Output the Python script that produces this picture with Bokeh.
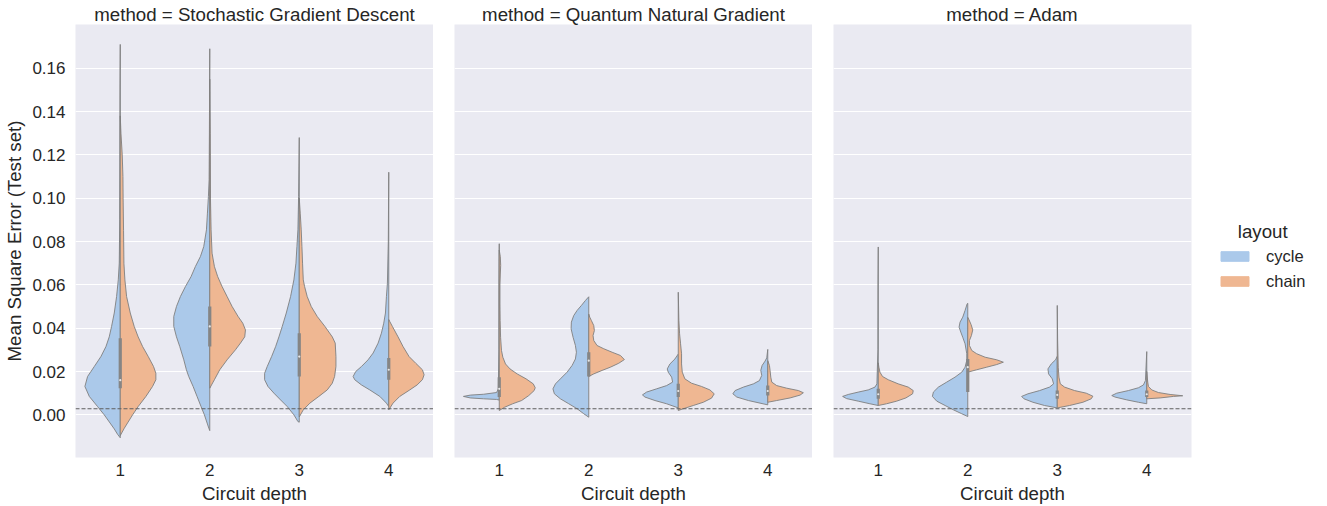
from bokeh.plotting import figure
from bokeh.models import Range1d, FixedTicker, Span, Legend, LegendItem, ColumnDataSource
from bokeh.layouts import row
from bokeh.embed import file_html
from bokeh.resources import INLINE

# ---------------- data ----------------
METHODS = ["Stochastic Gradient Descent", "Quantum Natural Gradient", "Adam"]
DEPTHS = [1, 2, 3, 4]
LAYOUTS = ["cycle", "chain"]
Y_TICKS = [0.0, 0.02, 0.04, 0.06, 0.08, 0.10, 0.12, 0.14, 0.16]
BASELINE = 0.0028

# violin half outlines: (MSE value, half density width in category units)
SGD_D1_CYCLE = [(-0.0106, 0), (-0.009, 0.03), (-0.0065, 0.067), (0.0, 0.179), (0.0038, 0.253), (0.0085, 0.346),
                (0.0131, 0.395), (0.0177, 0.365), (0.0223, 0.29), (0.0269, 0.216), (0.0315, 0.16), (0.036, 0.123),
                (0.0408, 0.097), (0.047, 0.067), (0.0546, 0.041), (0.0623, 0.022), (0.07, 0.011), (0.09, 0.006),
                (0.12, 0.004), (0.15, 0.003), (0.171, 0)]
SGD_D1_CHAIN = [(-0.0096, 0), (-0.0062, 0.045), (0.0, 0.138), (0.0038, 0.2), (0.0085, 0.287), (0.0131, 0.361),
                (0.0162, 0.398), (0.0192, 0.398), (0.0223, 0.372), (0.0269, 0.313), (0.0315, 0.25), (0.036, 0.2),
                (0.0408, 0.156), (0.047, 0.112), (0.0546, 0.071), (0.0623, 0.052), (0.07, 0.041), (0.085, 0.037),
                (0.1, 0.032), (0.11, 0.03), (0.12, 0.022), (0.13, 0.008), (0.138, 0)]
SGD_D2_CYCLE = [(-0.0073, 0), (-0.0062, 0.01), (0.0, 0.06), (0.0038, 0.097), (0.0085, 0.142), (0.0131, 0.186),
                (0.0177, 0.235), (0.0208, 0.261), (0.0254, 0.29), (0.0315, 0.335), (0.036, 0.372), (0.0408, 0.402),
                (0.0454, 0.402), (0.05, 0.372), (0.0546, 0.328), (0.0592, 0.272), (0.0638, 0.209), (0.0685, 0.16),
                (0.0731, 0.104), (0.0777, 0.067), (0.0854, 0.037), (0.0931, 0.026), (0.1008, 0.015), (0.1085, 0.007),
                (0.13, 0.004), (0.169, 0)]
SGD_D2_CHAIN = [(0.0123, 0), (0.0162, 0.052), (0.0208, 0.112), (0.0254, 0.194), (0.03, 0.287), (0.0331, 0.343),
                (0.036, 0.391), (0.0392, 0.399), (0.0423, 0.369), (0.0454, 0.317), (0.05, 0.25), (0.0546, 0.194),
                (0.0592, 0.138), (0.0638, 0.089), (0.0685, 0.052), (0.0746, 0.026), (0.0854, 0.015), (0.1, 0.008),
                (0.13, 0.005), (0.155, 0)]
SGD_D3_CYCLE = [(-0.0034, 0), (-0.0031, 0.015), (0.0, 0.06), (0.0038, 0.134), (0.0069, 0.209), (0.01, 0.283),
                (0.0131, 0.35), (0.0162, 0.387), (0.0192, 0.387), (0.0223, 0.358), (0.0269, 0.309), (0.0315, 0.264),
                (0.036, 0.227), (0.0408, 0.19), (0.047, 0.145), (0.0546, 0.097), (0.0623, 0.06), (0.07, 0.037),
                (0.0777, 0.026), (0.0854, 0.015), (0.1008, 0.007), (0.128, 0)]
SGD_D3_CHAIN = [(-0.001, 0), (0.0023, 0.045), (0.0054, 0.119), (0.0085, 0.219), (0.0115, 0.313), (0.0146, 0.369),
                (0.0177, 0.395), (0.0223, 0.41), (0.0269, 0.41), (0.0331, 0.402), (0.036, 0.369), (0.0408, 0.287),
                (0.0454, 0.201), (0.05, 0.134), (0.0546, 0.089), (0.0592, 0.06), (0.0623, 0.045), (0.07, 0.037),
                (0.0777, 0.03), (0.0854, 0.022), (0.0931, 0.011), (0.1, 0)]
SGD_D4_CYCLE = [(0.0038, 0), (0.0054, 0.026), (0.0085, 0.1), (0.0115, 0.212), (0.0138, 0.305), (0.0162, 0.38),
                (0.0177, 0.398), (0.02, 0.369), (0.0223, 0.305), (0.0254, 0.231), (0.0285, 0.175), (0.0331, 0.119),
                (0.0377, 0.082), (0.0423, 0.056), (0.047, 0.037), (0.0546, 0.026), (0.0608, 0.015), (0.08, 0.005),
                (0.112, 0)]
SGD_D4_CHAIN = [(0.0023, 0), (0.0054, 0.048), (0.0085, 0.123), (0.0115, 0.235), (0.0138, 0.317), (0.0162, 0.376),
                (0.0185, 0.395), (0.0208, 0.376), (0.0238, 0.302), (0.0269, 0.227), (0.0315, 0.16), (0.036, 0.104),
                (0.0408, 0.041), (0.0431, 0.011), (0.044, 0)]

QNG_D1_CYCLE = [(0.0068, 0), (0.0071, 0.03), (0.0074, 0.175), (0.0078, 0.324), (0.0085, 0.4), (0.0091, 0.324),
                (0.0095, 0.175), (0.0103, 0.03), (0.012, 0.01), (0.03, 0.004), (0.06, 0.003), (0.079, 0)]
QNG_D1_CHAIN = [(0.002, 0), (0.0035, 0.06), (0.0051, 0.15), (0.0066, 0.25), (0.0089, 0.33), (0.0112, 0.39),
                (0.0125, 0.402), (0.0143, 0.38), (0.0166, 0.3), (0.0189, 0.2), (0.0212, 0.12), (0.0235, 0.07),
                (0.0266, 0.04), (0.0297, 0.025), (0.0358, 0.015), (0.0435, 0.01), (0.0512, 0.008), (0.06, 0.008),
                (0.065, 0.012), (0.069, 0.016), (0.073, 0.012), (0.076, 0)]
QNG_D2_CYCLE = [(-0.0011, 0), (0.0005, 0.056), (0.0028, 0.13), (0.0051, 0.223), (0.0074, 0.317), (0.0097, 0.384),
                (0.012, 0.4), (0.0143, 0.372), (0.0166, 0.317), (0.0197, 0.242), (0.0228, 0.186), (0.0258, 0.149),
                (0.0289, 0.138), (0.032, 0.149), (0.0358, 0.175), (0.0397, 0.197), (0.0428, 0.194), (0.0458, 0.168),
                (0.0482, 0.13), (0.0505, 0.082), (0.0528, 0.037), (0.054, 0.011), (0.0545, 0)]
QNG_D2_CHAIN = [(0.0177, 0), (0.0189, 0.056), (0.0205, 0.149), (0.022, 0.242), (0.0238, 0.335), (0.0255, 0.398),
                (0.0274, 0.354), (0.0289, 0.261), (0.0305, 0.168), (0.032, 0.093), (0.0343, 0.056), (0.0366, 0.048),
                (0.0389, 0.063), (0.0412, 0.056), (0.0435, 0.03), (0.0451, 0.011), (0.0465, 0)]
QNG_D3_CYCLE = [(0.0032, 0), (0.0051, 0.13), (0.0066, 0.26), (0.0082, 0.372), (0.0092, 0.4), (0.0105, 0.354),
                (0.012, 0.242), (0.0135, 0.13), (0.0151, 0.063), (0.0174, 0.074), (0.0197, 0.112), (0.0212, 0.123),
                (0.0235, 0.093), (0.0258, 0.037), (0.0274, 0.011), (0.028, 0)]
QNG_D3_CHAIN = [(0.002, 0), (0.0028, 0.056), (0.0043, 0.168), (0.0058, 0.28), (0.0077, 0.372), (0.0097, 0.402),
                (0.0115, 0.354), (0.0131, 0.26), (0.0146, 0.149), (0.0166, 0.074), (0.0197, 0.045), (0.0235, 0.037),
                (0.0282, 0.037), (0.0328, 0.026), (0.0374, 0.015), (0.0435, 0.007), (0.0566, 0)]
QNG_D4_CYCLE = [(0.0046, 0), (0.0054, 0.086), (0.0066, 0.216), (0.0082, 0.346), (0.0097, 0.39), (0.0112, 0.365),
                (0.0128, 0.272), (0.0143, 0.16), (0.0158, 0.093), (0.0182, 0.067), (0.0205, 0.078), (0.0228, 0.063),
                (0.0248, 0.03), (0.0263, 0.011), (0.0302, 0)]
QNG_D4_CHAIN = [(0.0058, 0), (0.0066, 0.1), (0.0078, 0.25), (0.0091, 0.361), (0.0102, 0.398), (0.0112, 0.343),
                (0.0123, 0.212), (0.0135, 0.1), (0.0151, 0.045), (0.0174, 0.034), (0.0205, 0.026), (0.0228, 0.019),
                (0.025, 0)]

ADAM_D1_CYCLE = [(0.0043, 0), (0.0051, 0.093), (0.0063, 0.223), (0.0075, 0.354), (0.0085, 0.398), (0.0094, 0.335),
                 (0.0105, 0.223), (0.0115, 0.112), (0.0128, 0.037), (0.0143, 0.015), (0.03, 0.004), (0.06, 0.003),
                 (0.0775, 0)]
ADAM_D1_CHAIN = [(0.0043, 0), (0.0051, 0.093), (0.0063, 0.205), (0.0078, 0.309), (0.0097, 0.384), (0.0112, 0.391),
                 (0.0128, 0.335), (0.0143, 0.223), (0.0162, 0.112), (0.0177, 0.048), (0.0197, 0.019), (0.022, 0.007),
                 (0.024, 0)]
ADAM_D2_CYCLE = [(-0.0008, 0), (0.0005, 0.067), (0.0023, 0.16), (0.0043, 0.253), (0.0063, 0.346), (0.0085, 0.395),
                 (0.0105, 0.384), (0.0128, 0.328), (0.0151, 0.235), (0.0174, 0.142), (0.0197, 0.067), (0.022, 0.03),
                 (0.0251, 0.011), (0.0282, 0.011), (0.0328, 0.03), (0.0358, 0.056), (0.0382, 0.078), (0.0405, 0.097),
                 (0.0428, 0.086), (0.0451, 0.056), (0.0482, 0.03), (0.0512, 0.007), (0.0515, 0)]
ADAM_D2_CHAIN = [(0.0197, 0), (0.0208, 0.1), (0.022, 0.212), (0.0232, 0.324), (0.0243, 0.398), (0.0254, 0.324),
                 (0.0266, 0.194), (0.0282, 0.1), (0.0297, 0.045), (0.032, 0.019), (0.0343, 0.019), (0.0366, 0.041),
                 (0.0392, 0.056), (0.0417, 0.037), (0.0438, 0.015), (0.045, 0)]
ADAM_D3_CYCLE = [(0.0032, 0), (0.0043, 0.142), (0.0058, 0.272), (0.0074, 0.372), (0.0085, 0.398), (0.0097, 0.328),
                 (0.0112, 0.197), (0.0128, 0.086), (0.0143, 0.041), (0.0166, 0.056), (0.0189, 0.097), (0.0212, 0.104),
                 (0.0235, 0.067), (0.0254, 0.019), (0.027, 0)]
ADAM_D3_CHAIN = [(0.0032, 0), (0.0043, 0.138), (0.0058, 0.287), (0.0074, 0.38), (0.0086, 0.398), (0.01, 0.324),
                 (0.0112, 0.194), (0.0128, 0.082), (0.0143, 0.034), (0.0174, 0.019), (0.022, 0.011), (0.035, 0.004),
                 (0.0505, 0)]
ADAM_D4_CYCLE = [(0.0051, 0), (0.0058, 0.093), (0.0069, 0.223), (0.0082, 0.354), (0.0089, 0.391), (0.01, 0.335),
                 (0.0112, 0.205), (0.0125, 0.093), (0.0138, 0.037), (0.0158, 0.015), (0.0292, 0)]
ADAM_D4_CHAIN = [(0.0074, 0), (0.0078, 0.15), (0.0085, 0.3), (0.0088, 0.402), (0.0094, 0.261), (0.0103, 0.13),
                 (0.0115, 0.056), (0.0131, 0.019), (0.0151, 0.011), (0.02, 0)]

# inner box (quartiles and median) per depth
SGD_Q1 = [0.0123, 0.0315, 0.0177, 0.0162]
SGD_Q3 = [0.0354, 0.0500, 0.0377, 0.0262]
SGD_MED = [0.0160, 0.0408, 0.0269, 0.0208]
QNG_Q1 = [0.0082, 0.0177, 0.0082, 0.0089]
QNG_Q3 = [0.0174, 0.0289, 0.0143, 0.0135]
QNG_MED = [0.0120, 0.0250, 0.0110, 0.0110]
ADAM_Q1 = [0.0074, 0.0105, 0.0074, 0.0082]
ADAM_Q3 = [0.0120, 0.0258, 0.0112, 0.0112]
ADAM_MED = [0.0095, 0.0220, 0.0092, 0.0095]

PANELS = [
    (METHODS[0], [SGD_D1_CYCLE, SGD_D2_CYCLE, SGD_D3_CYCLE, SGD_D4_CYCLE],
     [SGD_D1_CHAIN, SGD_D2_CHAIN, SGD_D3_CHAIN, SGD_D4_CHAIN], SGD_Q1, SGD_Q3, SGD_MED),
    (METHODS[1], [QNG_D1_CYCLE, QNG_D2_CYCLE, QNG_D3_CYCLE, QNG_D4_CYCLE],
     [QNG_D1_CHAIN, QNG_D2_CHAIN, QNG_D3_CHAIN, QNG_D4_CHAIN], QNG_Q1, QNG_Q3, QNG_MED),
    (METHODS[2], [ADAM_D1_CYCLE, ADAM_D2_CYCLE, ADAM_D3_CYCLE, ADAM_D4_CYCLE],
     [ADAM_D1_CHAIN, ADAM_D2_CHAIN, ADAM_D3_CHAIN, ADAM_D4_CHAIN], ADAM_Q1, ADAM_Q3, ADAM_MED),
]

# ---------------- style ----------------
FONT = "Liberation Sans"
TEXT = "#262626"
BG = "#eaeaf2"
COLORS = {"cycle": "#abc9ea", "chain": "#efb792"}
EDGE = "#7f7f7f"
Y_LO, Y_HI = -0.0197, 0.1802


def half_shapes(halves, side):
    xs, ys = [], []
    for depth, pts in zip(DEPTHS, halves):
        xs.append([depth + side * w for (_, w) in pts])
        ys.append([v for (v, _) in pts])
    return xs, ys


figs = []
for i, (method, cyc, cha, q1, q3, med) in enumerate(PANELS):
    first = i == 0
    last = i == len(PANELS) - 1
    p = figure(frame_width=358, frame_height=433,
               x_range=Range1d(0.5, 4.5), y_range=Range1d(Y_LO, Y_HI),
               output_backend="svg", toolbar_location=None,
               min_border_left=75 if first else 21, min_border_right=135 if last else 0,
               min_border_top=24, min_border_bottom=49,
               background_fill_color=BG, border_fill_color="white", outline_line_color=None)
    p.title.text = "method = " + method
    p.title.align = "center"
    p.title.text_font = FONT
    p.title.text_font_size = "18.7px"
    p.title.text_font_style = "normal"
    p.title.text_color = TEXT
    p.title.standoff = 0

    p.xgrid.visible = False
    p.ygrid.ticker = FixedTicker(ticks=Y_TICKS)
    p.ygrid.grid_line_color = "white"
    p.ygrid.grid_line_width = 1

    p.xaxis.ticker = FixedTicker(ticks=DEPTHS)
    p.xaxis.major_label_overrides = {d: str(d) for d in DEPTHS}
    p.xaxis.axis_label = "Circuit depth"
    p.yaxis.ticker = FixedTicker(ticks=Y_TICKS)
    p.yaxis.major_label_overrides = {t: f"{t:.2f}" for t in Y_TICKS}
    p.yaxis.axis_label = "Mean Square Error (Test set)"
    for ax in (p.xaxis[0], p.yaxis[0]):
        ax.axis_line_color = None
        ax.major_tick_line_color = None
        ax.minor_tick_line_color = None
        ax.major_label_text_font = FONT
        ax.major_label_text_font_size = "17px"
        ax.major_label_text_color = TEXT
        ax.axis_label_text_font = FONT
        ax.axis_label_text_font_size = "18.7px"
        ax.axis_label_text_font_style = "normal"
        ax.axis_label_text_color = TEXT
    p.xaxis.major_label_standoff = 0
    p.xaxis.axis_label_standoff = 4
    p.yaxis.major_label_standoff = 4
    p.yaxis.axis_label_standoff = 4
    if not first:
        p.yaxis.visible = False

    for layout, halves, side in (("cycle", cyc, -1), ("chain", cha, 1)):
        xs, ys = half_shapes(halves, side)
        p.patches(xs=xs, ys=ys, fill_color=COLORS[layout], line_color=EDGE, line_width=0.9)

    src = ColumnDataSource(dict(x=DEPTHS, q1=q1, q3=q3, med=med))
    p.segment(x0="x", y0="q1", x1="x", y1="q3", source=src, line_color="#858585", line_width=3.2)
    p.scatter(x="x", y="med", source=src, size=2.2, fill_color="white", fill_alpha=0.8, line_color=None)

    p.add_layout(Span(location=BASELINE, dimension="width", line_color="#5f5f5f",
                      line_dash="4 2", line_width=1.2))

    if last:
        items = []
        for layout in LAYOUTS:
            # legend swatch renderers, placed outside the visible x range
            dummy = p.quad(left=[10], right=[11], top=[0.1], bottom=[0.09], fill_color=COLORS[layout],
                           line_color=COLORS[layout])
            items.append(LegendItem(label=layout, renderers=[dummy]))
        leg = Legend(items=items, location=(26, 166), title="\u00a0\u00a0\u00a0\u00a0layout")
        leg.title_text_font = FONT
        leg.title_text_font_size = "18.7px"
        leg.title_text_font_style = "normal"
        leg.title_text_color = TEXT
        leg.title_standoff = 3
        leg.label_text_font = FONT
        leg.label_text_font_size = "16.5px"
        leg.label_text_color = TEXT
        leg.glyph_width = 35
        leg.glyph_height = 12
        leg.label_standoff = 14
        leg.label_height = 20
        leg.spacing = 5
        leg.border_line_color = None
        leg.background_fill_alpha = 0
        p.add_layout(leg, "right")
    figs.append(p)

layout_obj = row(*figs)
open("out.html", "w").write(file_html(layout_obj, INLINE))
